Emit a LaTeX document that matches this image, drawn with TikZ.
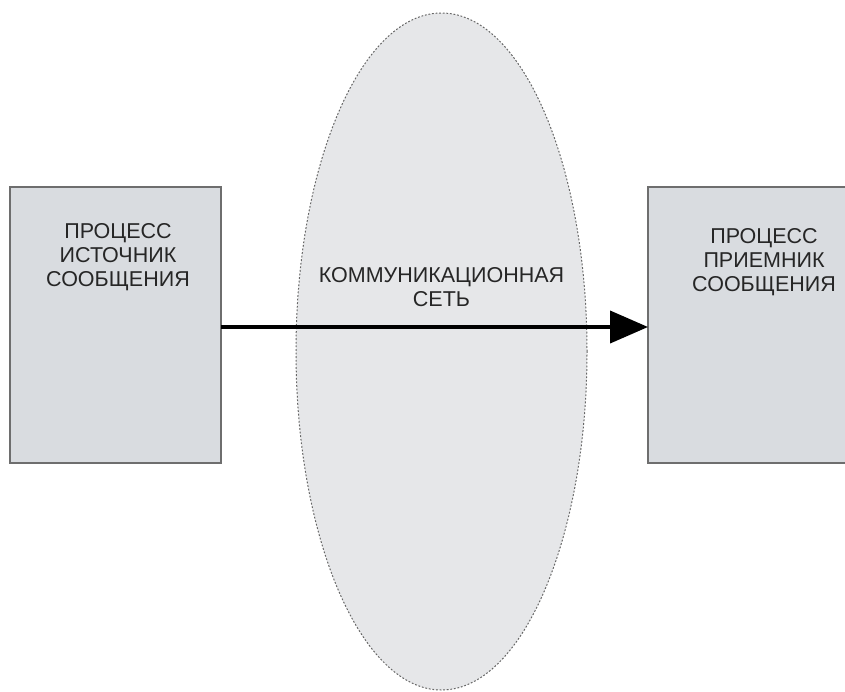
\documentclass[tikz,border=0pt]{standalone}
\usepackage{fontspec}
\setmainfont{Liberation Sans}
\usetikzlibrary{arrows.meta,shapes.geometric}
\definecolor{boxfill}{HTML}{D9DCE0}
\definecolor{boxline}{HTML}{6E6E6E}
\definecolor{netfill}{HTML}{E6E7E9}
\definecolor{netline}{HTML}{666666}
\tikzset{
  procbox/.style={fill=boxfill, draw=boxline, line width=1.3pt},
  label/.style={font=\fontsize{21.5}{24}\selectfont, align=center, text=black!85, inner sep=0pt},
  net/.style={ellipse, fill=netfill, draw=netline, line width=1pt, dash pattern=on 1.8pt off 1.8pt, minimum width=291pt, minimum height=677pt, inner sep=0pt},
  flow/.style={line width=4pt, -{Triangle[length=38pt,width=32pt]}}
}
\begin{document}
\begin{tikzpicture}[x=1pt,y=-1pt]
  \useasboundingbox (0,0) rectangle (845,691);
  % communication network
  \node[net] (net) at (441.5,351.5) {};
  % source and receiver processes
  \draw[procbox] (10,187) rectangle (221,463);
  \coordinate (src) at (221,327);
  \fill[boxfill] (648,187) rectangle (845,463);
  \draw[boxline, line width=1.3pt] (845,187) -- (648,187) -- (648,463) -- (845,463);
  \coordinate (dst) at (648,327);
  % texts
  \node[label] (srctext) at (118,257) {ПРОЦЕСС\\ИСТОЧНИК\\СООБЩЕНИЯ};
  \node[label] (dsttext) at (764,262) {ПРОЦЕСС\\ПРИЕМНИК\\СООБЩЕНИЯ};
  \node[label] (nettext) at (441.5,287) {КОММУНИКАЦИОННАЯ\\СЕТЬ};
  % message flow
  \draw[flow] (src) -- (dst);
\end{tikzpicture}
\end{document}
